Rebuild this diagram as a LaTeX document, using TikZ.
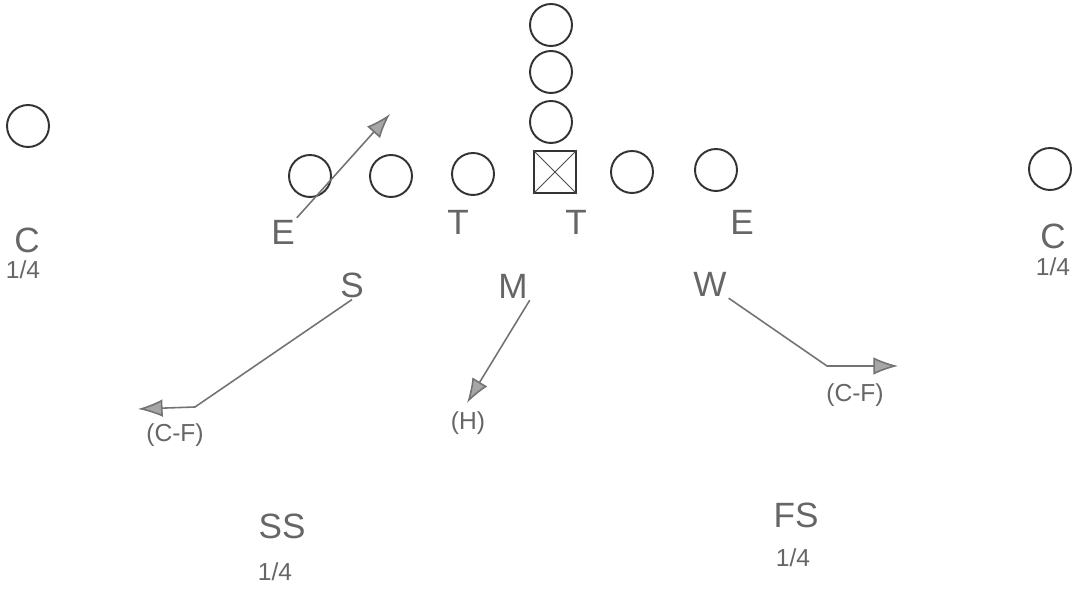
\documentclass[tikz,border=0pt]{standalone}
\usepackage{fontspec}
\setmainfont{Liberation Sans}
\usetikzlibrary{positioning, arrows.meta}

\begin{document}
\begin{tikzpicture}[x=0.02cm, y=-0.02cm,
		player/.style={circle, draw=black!80, line width=1.1pt, minimum size=0.84cm, inner sep=0pt},
		spot/.style={text=black!60, font=\fontsize{20}{22}\selectfont, inner sep=1pt},
		zone/.style={text=black!60, font=\fontsize{14}{16}\selectfont, inner sep=1pt},
		route/.style={draw=black!55, line width=0.9pt, -{Latex[length=14pt, width=10pt, fill=black!35]}}]
	\useasboundingbox (0,0) rectangle (1073,590);

	% offense
	\node[player] (WL) at (28,126) {};
	\node[player] (WR) at (1050,169) {};
	\node[player] (O1) at (310,176) {};
	\node[player] (O2) at (391,176) {};
	\node[player] (O3) at (473,174) {};
	\node[draw=black!80, line width=1.1pt, minimum size=0.84cm, inner sep=0pt] (Ctr) at (555,172) {};
	\draw[black!70, line width=0.5pt] (Ctr.north west) -- (Ctr.south east) (Ctr.north east) -- (Ctr.south west);
	\node[player] (O5) at (632,172) {};
	\node[player] (O6) at (716,170) {};
	\node[player] (B1) at (551,122) {};
	\node[player] (B2) at (551,72) {};
	\node[player] (B3) at (551,25) {};

	% defensive line
	\node[spot] (EL) at (283,232) {E};
	\node[spot] (TL) at (458,222) {T};
	\node[spot] (TR) at (576,222) {T};
	\node[spot] (ER) at (742,222) {E};

	% corners
	\node[spot] (CL) at (27,240) {C};
	\node[zone] (CLq) at (23,270) {1/4};
	\node[spot] (CR) at (1053,236) {C};
	\node[zone] (CRq) at (1053,267) {1/4};

	% linebackers
	\node[spot] (S) at (352,285) {S};
	\node[spot] (M) at (513,286) {M};
	\node[spot] (W) at (710,284) {W};

	% safeties
	\node[spot] (SS) at (282,526) {SS};
	\node[zone] (SSq) at (275,572) {1/4};
	\node[spot] (FS) at (796,515) {FS};
	\node[zone] (FSq) at (793,558) {1/4};

	% zones
	\node[zone] (CFL) at (175,435) {(C-F)};
	\node[zone] (HK) at (468,423) {(H)};
	\node[zone] (CFR) at (855,395) {(C-F)};

	% routes
	\coordinate (Etip) at (390,114);
	\draw[route] (EL.north east) -- (Etip);
	\coordinate (Sbend) at (195,407);
	\coordinate (Stip) at (138,409);
	\draw[route] (S.south) -- (Sbend) -- (Stip);
	\coordinate (Mtip) at (467,403);
	\draw[route] (M.south east) -- (Mtip);
	\coordinate (Wbend) at (827,366);
	\coordinate (Wtip) at (898,366);
	\draw[route] (W.south east) -- (Wbend) -- (Wtip);
\end{tikzpicture}
\end{document}
